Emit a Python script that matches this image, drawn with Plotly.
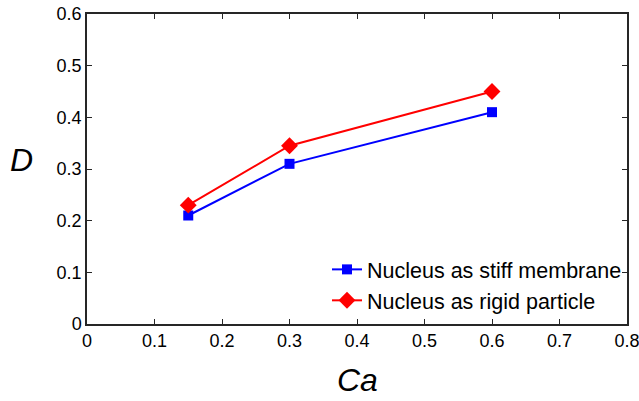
import plotly.graph_objects as go

ca = [0.15, 0.3, 0.6]
d_membrane = [0.21, 0.31, 0.41]
d_rigid = [0.23, 0.345, 0.45]
names = ["Nucleus as stiff membrane", "Nucleus as rigid particle"]

fig = go.Figure()
fig.add_trace(go.Scatter(x=ca, y=d_membrane, mode="lines+markers", name=names[0],
                         line=dict(color="#0000ff", width=2),
                         marker=dict(symbol="square", size=10, color="#0000ff")))
fig.add_trace(go.Scatter(x=ca, y=d_rigid, mode="lines+markers", name=names[1],
                         line=dict(color="#ff0000", width=2),
                         marker=dict(symbol="diamond", size=13, color="#ff0000")))

font_fam = "Liberation Sans, Arial"
axis_common = dict(showgrid=False, zeroline=False, showline=True, linecolor="#262626",
                   linewidth=1.5, mirror="ticks", ticks="inside", ticklen=5,
                   tickcolor="#262626", tickwidth=1, automargin=False,
                   ticklabeloverflow="allow",
                   tickfont=dict(family=font_fam, size=18, color="#000000"))

fig.update_layout(
    width=639, height=401,
    margin=dict(l=87, r=12, t=14, b=77, autoexpand=False),
    paper_bgcolor="white", plot_bgcolor="white",
    xaxis=dict(range=[0, 0.8], dtick=0.1, tickformat=".1~f", **axis_common),
    yaxis=dict(range=[0, 0.6], dtick=0.1, tickformat=".1~f", **axis_common),
    legend=dict(x=1.0, y=0.01, xanchor="right", yanchor="bottom",
                bgcolor="rgba(255,255,255,0)", borderwidth=0,
                font=dict(family=font_fam, size=21.5, color="#000"),
                itemwidth=30, tracegroupgap=0),
    showlegend=True,
    annotations=[
        dict(text="<i>Ca</i>", xref="paper", yref="paper", x=0.5, y=-0.18,
             xanchor="center", yanchor="middle", showarrow=False,
             font=dict(family=font_fam, size=32, color="#000")),
        dict(text="<i>D</i>", xref="paper", yref="paper", x=-0.122, y=0.53,
             xanchor="center", yanchor="middle", showarrow=False,
             font=dict(family=font_fam, size=32, color="#000")),
    ],
)

fig.write_html("out.html")
